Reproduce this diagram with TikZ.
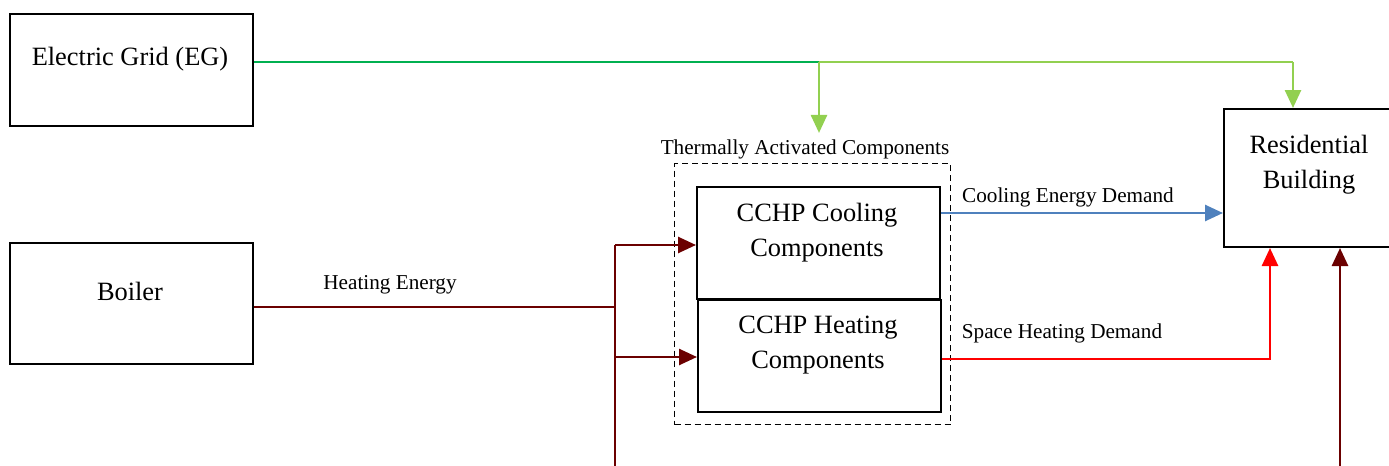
\documentclass[tikz,border=0pt]{standalone}
\usepackage{fontspec}
\setmainfont{Liberation Serif}
\usetikzlibrary{arrows.meta}
\definecolor{egdark}{HTML}{00B050}
\definecolor{eglight}{HTML}{92D050}
\definecolor{heatred}{HTML}{6B0000}
\definecolor{coolblue}{HTML}{4F81BD}
\definecolor{spacered}{HTML}{FF0000}
\begin{document}
\begin{tikzpicture}[x=0.5pt,y=-0.5pt,
  box/.style={draw=black, line width=1pt, inner sep=0pt, anchor=north west},
  bigtext/.style={font=\fontsize{13.2}{17.5}\selectfont, align=center, inner sep=0pt},
  smalltext/.style={font=\fontsize{10.6}{13}\selectfont, inner sep=0pt},
  tip/.style={-{Triangle[length=9pt,width=8pt]}},
  flow/.style={line width=1.3pt}]
\useasboundingbox (0,0) rectangle (1389,466);
% boxes
\node[box, minimum width=121.5pt, minimum height=56pt] (eg) at (9,13) {};
\node[box, minimum width=121.5pt, minimum height=60.5pt] (boiler) at (9,242) {};
\node[box, minimum width=87pt, minimum height=69pt] (res) at (1223,108) {};
\node[box, draw=black, line width=0.6pt, dash pattern=on 3pt off 2pt, minimum width=138pt, minimum height=130.5pt] (tac) at (674,163) {};
\node[box, minimum width=121.5pt, minimum height=56pt] (cool) at (696,186) {};
\node[box, minimum width=121.5pt, minimum height=56pt] (heat) at (697,299) {};
% texts
\node[bigtext] (egt) at (130,59) {Electric Grid (EG)};
\node[bigtext] (boilert) at (130,291) {Boiler};
\node[bigtext] (rest) at (1309,165) {Residential\\Building};
\node[bigtext] (coolt) at (817,233) {CCHP Cooling\\Components};
\node[bigtext] (heatt) at (818,345) {CCHP Heating\\Components};
\node[smalltext] (tacl) at (805,149) {Thermally Activated Components};
\node[smalltext] (heatl) at (390,285) {Heating Energy};
\node[smalltext] (cooll) at (1068,197) {Cooling Energy Demand};
\node[smalltext] (spacel) at (1062,333) {Space Heating Demand};
% coordinates
\coordinate (j1) at (819,62);
\coordinate (j2) at (1293,62);
\coordinate (b1) at (615,307);
\coordinate (btop) at (615,245);
\coordinate (bmid) at (615,357);
\coordinate (bbot) at (615,475);
\coordinate (c1) at (940,213);
\coordinate (h1) at (1270,359);
\coordinate (d1) at (1340,475);
% electric grid
\draw[flow, egdark] (j1 -| eg.east) -- (j1);
\draw[flow, eglight] (j1) -- (j2);
\draw[flow, eglight, tip] (j1) -- ([yshift=3pt]j1 |- tacl.north);
\draw[flow, eglight, tip] (j2) -- (j2 |- res.north);
% boiler
\draw[line width=1pt, heatred] (b1 -| boiler.east) -- (b1);
\draw[flow, heatred] (btop) -- (bbot);
\draw[flow, heatred, tip] (btop) -- (btop -| cool.west);
\draw[flow, heatred, tip] (bmid) -- (bmid -| heat.west);
% cooling
\draw[flow, coolblue, tip] (c1 -| cool.east) -- (c1 -| res.west);
% space heating
\draw[flow, spacered, tip] (h1 -| heat.east) -- (h1) -- (h1 |- res.south);
% bottom
\draw[flow, heatred, tip] (d1) -- (d1 |- res.south);
\end{tikzpicture}
\end{document}
